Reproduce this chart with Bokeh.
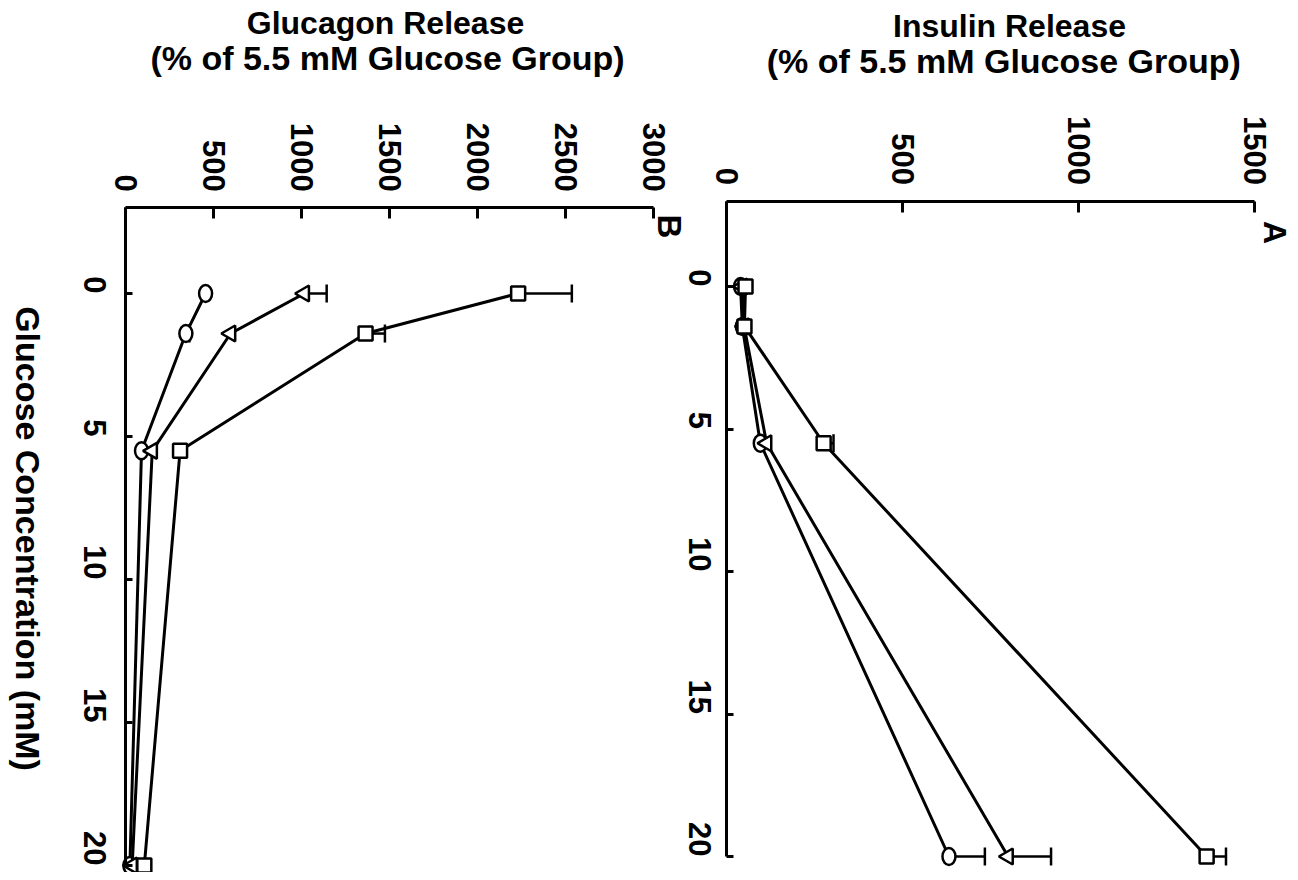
import math
from bokeh.plotting import figure
from bokeh.models import Range1d, FixedTicker, Label, LinearAxis
from bokeh.embed import file_html
from bokeh.resources import INLINE

# ---------------- data ----------------
glucose_mM = [0, 1.4, 5.5, 20]
glucose_ticks = [0, 5, 10, 15, 20]
insulin_ticks = [0, 500, 1000, 1500]
glucagon_ticks = [0, 500, 1000, 1500, 2000, 2500, 3000]

# Panel A: insulin release (% of 5.5 mM glucose group)
insulin_circle = [40, 45, 96, 632]
insulin_circle_err = [0, 0, 0, 102]
insulin_triangle = [45, 50, 114, 800]
insulin_triangle_err = [0, 0, 0, 122]
insulin_square = [54, 51, 276, 1364]
insulin_square_err = [0, 0, 28, 55]

# Panel B: glucagon release (% of 5.5 mM glucose group)
glucagon_circle = [455, 343, 91, 25]
glucagon_circle_err = [0, 20, 0, 0]
glucagon_triangle = [1016, 597, 152, 38]
glucagon_triangle_err = [127, 0, 0, 0]
glucagon_square = [2231, 1364, 310, 107]
glucagon_square_err = [305, 110, 0, 0]

FONT = "Liberation Sans"
W, H = 1296, 872

# ---- layout geometry (pixels on the canvas) ----
# panel B: 0 at x=125, 3000 at x=653 ; glucose 0 at y=293, 28.6 px per mM
# panel A: 0 at x=726, 1500 at x=1254 ; glucose 0 at y=286, 28.5 px per mM
B_X0, B_XPX = 125, 528 / 3000
A_X0, A_XPX = 726, 528 / 1500
B_Y0, B_YPX = 293, 28.6
A_Y0, A_YPX = 286, 28.5

bx = lambda px: (px - B_X0) / B_XPX
by = lambda py: (py - B_Y0) / B_YPX
ax_ = lambda px: (px - A_X0) / A_XPX
ay_ = lambda py: (py - A_Y0) / A_YPX

p = figure(width=W, height=H, title=None, output_backend="svg",
           toolbar_location=None, x_axis_type=None, y_axis_type=None,
           x_range=Range1d(bx(0), bx(W)), y_range=Range1d(by(H), by(0)),
           min_border_left=0, min_border_right=0, min_border_top=0,
           min_border_bottom=0)
p.extra_x_ranges = {"ins": Range1d(ax_(0), ax_(W))}
p.extra_y_ranges = {"insg": Range1d(ay_(H), ay_(0))}
p.grid.visible = False
p.outline_line_color = None
p.background_fill_color = "white"
p.border_fill_color = "white"


def style(a, tick_in, standoff):
    a.major_label_orientation = -math.pi / 2
    a.major_tick_in = tick_in
    a.major_tick_out = 0
    a.minor_tick_line_color = None
    a.axis_line_width = 3
    a.major_tick_line_width = 3
    a.axis_line_color = "black"
    a.major_tick_line_color = "black"
    a.major_label_text_font = FONT
    a.major_label_text_font_style = "bold"
    a.major_label_text_font_size = "31px"
    a.major_label_text_color = "black"
    a.major_label_standoff = standoff


# panel B axes
bxa = LinearAxis(fixed_location=-3, bounds=(0, 3000),
                 ticker=FixedTicker(ticks=glucagon_ticks))
style(bxa, 11, 16)
p.add_layout(bxa, "above")
bya = LinearAxis(fixed_location=0, bounds=(-3, 20),
                 ticker=FixedTicker(ticks=glucose_ticks))
style(bya, 7, 31)
p.add_layout(bya, "left")

# panel A axes
axa = LinearAxis(x_range_name="ins", y_range_name="insg", fixed_location=-3,
                 bounds=(0, 1500), ticker=FixedTicker(ticks=insulin_ticks))
style(axa, 11, 16)
p.add_layout(axa, "above")
aya = LinearAxis(x_range_name="ins", y_range_name="insg", fixed_location=0,
                 bounds=(-3, 20), ticker=FixedTicker(ticks=glucose_ticks))
style(aya, 7, 27)
p.add_layout(aya, "left")


def add_series(vals, errs, marker, **rn):
    p.line(vals, glucose_mM, line_color="black", line_width=3, **rn)
    ex0 = [v for v, e in zip(vals, errs) if e > 0]
    ex1 = [v + e for v, e in zip(vals, errs) if e > 0]
    ey = [g for g, e in zip(glucose_mM, errs) if e > 0]
    if ex0:
        p.segment(x0=ex0, y0=ey, x1=ex1, y1=ey, line_color="black",
                  line_width=2.5, **rn)
        p.scatter(x=ex1, y=ey, marker="dash", angle=math.pi / 2, size=18,
                  line_color="black", line_width=2.5, **rn)
    if marker == "circle":
        p.ellipse(x=vals, y=glucose_mM, width=13, height=17,
                  width_units="screen", height_units="screen",
                  fill_color="white", line_color="black", line_width=2.5, **rn)
    elif marker == "triangle":
        p.scatter(x=vals, y=glucose_mM, marker="triangle", angle=math.pi / 2,
                  size=16, fill_color="white", line_color="black",
                  line_width=2.5, **rn)
    else:
        p.scatter(x=vals, y=glucose_mM, marker="square", size=14,
                  fill_color="white", line_color="black", line_width=2.5, **rn)


RA = dict(x_range_name="ins", y_range_name="insg")
add_series(glucagon_circle, glucagon_circle_err, "circle")
add_series(glucagon_triangle, glucagon_triangle_err, "triangle")
add_series(glucagon_square, glucagon_square_err, "square")
add_series(insulin_circle, insulin_circle_err, "circle", **RA)
add_series(insulin_triangle, insulin_triangle_err, "triangle", **RA)
add_series(insulin_square, insulin_square_err, "square", **RA)


def text(x, y, s, size, angle=0.0, baseline="middle", **rn):
    p.add_layout(Label(x=x, y=y, text=s, angle=angle, text_align="center",
                       text_baseline=baseline, text_font=FONT,
                       text_font_style="bold", text_font_size=size,
                       text_color="black", **rn))


text(bx(385), by(22), "Glucagon Release", "32px")
text(bx(387), by(57), "(% of 5.5 mM Glucose Group)", "34px")
text(bx(27), by(538), "Glucose Concentration (mM)", "34px", angle=-math.pi / 2)
text(bx(669), by(226), "B", "33px", angle=-math.pi / 2)

text(ax_(1009), ay_(25), "Insulin Release", "32px", **RA)
text(ax_(1008), ay_(60), "(% of  5.5 mM Glucose Group)", "34px", **RA)
text(ax_(1274), ay_(232), "A", "32px", angle=-math.pi / 2, **RA)

open("out.html", "w").write(file_html(p, INLINE))
